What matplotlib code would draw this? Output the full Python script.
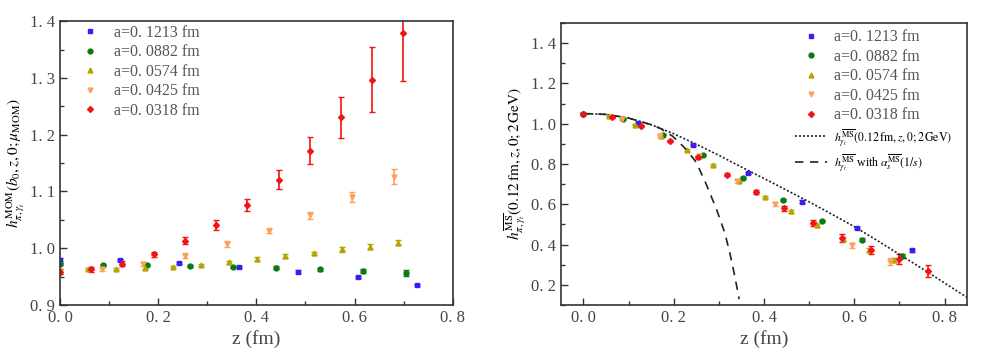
import numpy as np
import matplotlib
matplotlib.use('Agg')
import matplotlib.pyplot as plt
from matplotlib.lines import Line2D
from matplotlib.ticker import MultipleLocator, FuncFormatter

plt.rcParams['font.family'] = ['Liberation Serif', 'DejaVu Serif']
plt.rcParams['mathtext.fontset'] = 'stix'

# ---- left panel: MOM ratio ----
z_b = [0.0, 0.1213, 0.2426, 0.3639, 0.4852, 0.6065, 0.7278]
h_b = [0.980, 0.979, 0.974, 0.967, 0.959, 0.949, 0.935]
e_b = [0.002, 0.002, 0.002, 0.002, 0.002, 0.002, 0.002]

z_g = [0.0, 0.0882, 0.1764, 0.2646, 0.3528, 0.4410, 0.5292, 0.6174, 0.7056]
h_g = [0.972, 0.971, 0.970, 0.969, 0.967, 0.966, 0.963, 0.960, 0.956]
e_g = [0.002, 0.002, 0.002, 0.002, 0.002, 0.002, 0.003, 0.004, 0.005]

z_y = [0.0574, 0.1148, 0.1722, 0.2296, 0.2870, 0.3444, 0.4018, 0.4592,
       0.5166, 0.5740, 0.6314, 0.6888]
h_y = [0.963, 0.964, 0.966, 0.967, 0.971, 0.975, 0.981, 0.986,
       0.991, 0.998, 1.003, 1.010]
e_y = [0.002, 0.002, 0.002, 0.002, 0.002, 0.003, 0.003, 0.003,
       0.003, 0.004, 0.005, 0.005]

z_o = [0.0, 0.085, 0.170, 0.255, 0.340, 0.425, 0.510, 0.595, 0.680]
h_o = [0.959, 0.963, 0.972, 0.987, 1.007, 1.031, 1.058, 1.090, 1.126]
e_o = [0.004, 0.003, 0.003, 0.004, 0.005, 0.005, 0.006, 0.009, 0.013]

z_r = [0.0, 0.0636, 0.1272, 0.1908, 0.2544, 0.3180, 0.3816, 0.4452,
       0.5088, 0.5724, 0.6360, 0.6996]
h_r = [0.959, 0.963, 0.973, 0.989, 1.013, 1.041, 1.076, 1.121,
       1.172, 1.231, 1.297, 1.379]
e_r = [0.005, 0.004, 0.005, 0.005, 0.006, 0.008, 0.011, 0.017,
       0.024, 0.036, 0.057, 0.085]

# ---- right panel: MS-bar matrix elements ----
zb2 = [0.0, 0.1213, 0.2426, 0.3639, 0.4852, 0.6065, 0.7278]
hb2 = [1.050, 1.005, 0.893, 0.755, 0.613, 0.482, 0.372]
eb2 = [0.003, 0.003, 0.004, 0.005, 0.006, 0.007, 0.008]

zg2 = [0.0, 0.0882, 0.1764, 0.2646, 0.3528, 0.4410, 0.5292, 0.6174, 0.7056]
hg2 = [1.050, 1.024, 0.946, 0.844, 0.731, 0.621, 0.517, 0.424, 0.342]
eg2 = [0.003, 0.003, 0.004, 0.005, 0.005, 0.006, 0.007, 0.008, 0.010]

zy2 = [0.0574, 0.1148, 0.1722, 0.2296, 0.2870, 0.3444, 0.4018, 0.4592,
       0.5166, 0.5740, 0.6314, 0.6888]
hy2 = [1.037, 0.994, 0.938, 0.868, 0.794, 0.715, 0.637, 0.565,
       0.495, 0.428, 0.372, 0.322]
ey2 = [0.003, 0.003, 0.004, 0.004, 0.005, 0.005, 0.006, 0.006,
       0.007, 0.008, 0.009, 0.010]

zo2 = [0.085, 0.170, 0.255, 0.340, 0.425, 0.510, 0.595, 0.680]
ho2 = [1.024, 0.941, 0.838, 0.715, 0.601, 0.500, 0.396, 0.315]
eo2 = [0.004, 0.005, 0.006, 0.007, 0.008, 0.010, 0.012, 0.016]

zr2 = [0.0, 0.0636, 0.1272, 0.1908, 0.2544, 0.3180, 0.3816, 0.4452,
       0.5088, 0.5724, 0.6360, 0.6996, 0.7632]
hr2 = [1.050, 1.034, 0.986, 0.915, 0.834, 0.746, 0.660, 0.580,
       0.505, 0.433, 0.373, 0.327, 0.269]
er2 = [0.004, 0.004, 0.005, 0.006, 0.007, 0.008, 0.010, 0.012,
       0.015, 0.020, 0.022, 0.025, 0.030]

# curves
z_dot = [0.0, 0.05, 0.10, 0.124, 0.15, 0.20, 0.25, 0.30, 0.361, 0.40, 0.45,
         0.50, 0.55, 0.60, 0.65, 0.70, 0.75, 0.80, 0.85]
h_dot = [1.050, 1.046, 1.028, 1.012, 0.995, 0.950, 0.898, 0.843, 0.772, 0.728, 0.670,
         0.612, 0.551, 0.489, 0.421, 0.351, 0.281, 0.209, 0.137]
z_dash = [0.0, 0.05, 0.10, 0.124, 0.15, 0.17, 0.198, 0.228, 0.250, 0.272, 0.295,
          0.313, 0.324, 0.335, 0.345]
h_dash = [1.050, 1.046, 1.028, 1.012, 0.995, 0.977, 0.937, 0.872, 0.808, 0.700, 0.574,
          0.459, 0.362, 0.246, 0.129]

labels = ['a=0. 1213 fm', 'a=0. 0882 fm', 'a=0. 0574 fm', 'a=0. 0425 fm', 'a=0. 0318 fm']
colors = ['#3c1cf5', '#0b7a12', '#b3a400', '#ffa05c', '#f21414']
markers = ['s', 'o', '^', 'v', 'D']

left_sets = [(z_b, h_b, e_b), (z_g, h_g, e_g), (z_y, h_y, e_y), (z_o, h_o, e_o), (z_r, h_r, e_r)]
right_sets = [(zb2, hb2, eb2), (zg2, hg2, eg2), (zy2, hy2, ey2), (zo2, ho2, eo2), (zr2, hr2, er2)]

fig = plt.figure(figsize=(9.89, 3.58), dpi=100)
ax1 = fig.add_axes([0.0607, 0.148, 0.397, 0.793])
ax2 = fig.add_axes([0.567, 0.148, 0.411, 0.788])

fmt = FuncFormatter(lambda v, p: ('%.1f' % v).replace('.', '. '))


def style_axis(ax):
    for s in ax.spines.values():
        s.set_color('#333333')
        s.set_linewidth(1.2)
    ax.tick_params(which='both', direction='in', top=False, right=False,
                   labelsize=12, colors='#333333', labelcolor='#444444')
    ax.tick_params(which='major', length=5, width=1.0)
    ax.tick_params(which='minor', length=3, width=1.0)
    ax.xaxis.set_major_formatter(fmt)
    ax.yaxis.set_major_formatter(fmt)


def marker_handles():
    return [Line2D([], [], ls='none', marker=m, color=c, ms=3.5 if m != 'D' else 3)
            for m, c in zip(markers, colors)]


for (z, h, e), c, m in zip(left_sets, colors, markers):
    ax1.errorbar(z, h, yerr=e, fmt=m, color=c, ms=3.5 if m != 'D' else 3,
                 elinewidth=1.2, capsize=2.5, capthick=1.0)

ax1.set_xlim(0.0, 0.8)
ax1.set_ylim(0.9, 1.4)
ax1.xaxis.set_major_locator(MultipleLocator(0.2))
ax1.xaxis.set_minor_locator(MultipleLocator(0.1))
ax1.yaxis.set_major_locator(MultipleLocator(0.1))
ax1.yaxis.set_minor_locator(MultipleLocator(0.05))
style_axis(ax1)
ax1.set_xlabel('z (fm)', fontsize=14, color='#444444', labelpad=3)
ax1.set_ylabel(r'$h^{\rm MOM}_{\pi,\gamma_t}(b_0,z,0;\mu_{\rm MOM})$', fontsize=11, labelpad=2)
leg1 = ax1.legend(marker_handles(), labels, loc='upper left', frameon=False,
                  fontsize=11.5, handlelength=2.0, handletextpad=0.5,
                  borderaxespad=0.0, labelspacing=0.22,
                  bbox_to_anchor=(0.02, 1.01))
for t in leg1.get_texts():
    t.set_color('#555555')

for (z, h, e), c, m in zip(right_sets, colors, markers):
    ax2.errorbar(z, h, yerr=e, fmt=m, color=c, ms=3.5 if m != 'D' else 3,
                 elinewidth=1.2, capsize=2.5, capthick=1.0)

ln_dot, = ax2.plot(z_dot, h_dot, color='#222222', ls=(0, (1.2, 1.2)), lw=1.2)
ln_dash, = ax2.plot(z_dash, h_dash, color='#222222', ls=(0, (5, 4)), lw=1.2)

ax2.set_xlim(-0.05, 0.85)
ax2.set_ylim(0.1, 1.5)
ax2.xaxis.set_major_locator(MultipleLocator(0.2))
ax2.xaxis.set_minor_locator(MultipleLocator(0.1))
ax2.yaxis.set_major_locator(MultipleLocator(0.2))
ax2.yaxis.set_minor_locator(MultipleLocator(0.1))
style_axis(ax2)
ax2.set_xlabel('z (fm)', fontsize=14, color='#444444', labelpad=3)
ax2.set_ylabel(r'$h^{\overline{\rm MS}}_{\pi,\gamma_t}(0.12\,{\rm fm},z,0;2\,{\rm GeV})$',
               fontsize=11, labelpad=2)
curve_labels = [r'$h^{\overline{\rm MS}}_{\gamma_t}(0.12\,{\rm fm},z,0;2\,{\rm GeV})$',
                r'$h^{\overline{\rm MS}}_{\gamma_t}$ with $\alpha_s^{\overline{\rm MS}}(1/s)$']
leg2 = ax2.legend(marker_handles() + [ln_dot, ln_dash], labels + curve_labels,
                  loc='upper left', frameon=False, fontsize=11.5, handlelength=2.0,
                  handletextpad=0.45, borderaxespad=0.0, labelspacing=0.22,
                  bbox_to_anchor=(0.56, 1.0))
for t in leg2.get_texts()[:5]:
    t.set_color('#555555')
for t in leg2.get_texts()[5:]:
    t.set_fontsize(8.5)

fig.savefig('out.png', dpi=100)
plt.close()
